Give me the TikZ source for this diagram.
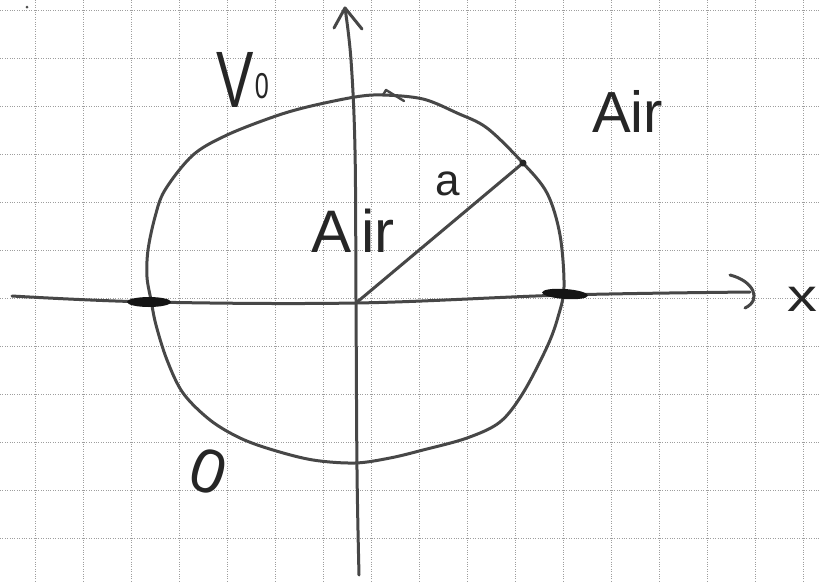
\documentclass[tikz,border=0pt]{standalone}
\usepackage{fontspec}
\setmainfont{Liberation Sans}
\begin{document}
\begin{tikzpicture}[x=1pt,y=-1pt,
  gridline/.style={draw=black!38,line width=0.6pt,dash pattern=on 0.8pt off 1.6pt},
  ink/.style={draw=black!72,line width=3pt,line cap=round,line join=round},
  blob/.style={fill=black!92,draw=none},
  lbl/.style={text=black!85,inner sep=0pt}]
\useasboundingbox[fill=white] (0,0) rectangle (819,582);
% grid
\foreach \k in {0,...,16} {\draw[gridline] (35+48*\k,0) -- (35+48*\k,582);}
\foreach \k in {0,...,11} {\draw[gridline] (0,10+48*\k) -- (819,10+48*\k);}
% key points
\coordinate (O) at (356,303);
\coordinate (P) at (523,163);
\coordinate (ytop) at (345,8);
\coordinate (ybot) at (359,575);
\coordinate (xl) at (12,296);
\coordinate (xr) at (750,292);
% speck
\fill[black!70] (27,7) circle (1.5);
% boundary
\draw[ink] plot[smooth cycle,tension=0.55] coordinates {
 (355,97) (383,95) (423,99) (457,113) (487,128) (522,162) (547,193) (560,235)
 (564,287) (558,317) (547,347) (523,393) (500,422) (467,438) (423,450) (390,458)
 (355,463) (313,460) (273,450) (240,438) (210,420) (183,393) (167,360) (156,325)
 (151,300) (147,277) (148,250) (155,217) (165,190) (193,155) (227,135) (273,117)
 (307,107)};
\draw[ink,line width=2.4pt] (383,95) -- (386,90) -- (404,101);
% y axis
\draw[ink] plot[smooth,tension=0.6] coordinates {(ybot) (357,470) (356,300) (355,150) (351,60) (ytop)};
\draw[ink] (334,28) -- (ytop) -- (362,29);
% x axis
\draw[ink] plot[smooth,tension=0.6] coordinates {(xl) (150,302) (O) (565,295) (xr)};
\draw[ink] (730,275) .. controls (754,281) and (762,300) .. (745,308);
% radius
\draw[ink] (O) -- (P);
\fill[black!85] (P) circle (3.5);
% gap blobs
\fill[blob] (149,302) ellipse [x radius=22,y radius=5];
\fill[blob,rotate around={-4:(565,294)}] (565,294) ellipse [x radius=23,y radius=5];
% labels
\node[lbl,anchor=base west,xscale=0.7] (v0) at (216,107)
  {\fontsize{80}{80}\selectfont V\kern2pt\raisebox{9pt}{\fontsize{36}{36}\selectfont 0}};
\node[lbl,anchor=base west] (airout) at (592,132) {\fontsize{58}{58}\selectfont Air};
\node[lbl,anchor=base west] (airin) at (311,252) {\fontsize{60}{60}\selectfont A\kern10pt ir};
\node[lbl,anchor=base west] (a) at (435,195) {\fontsize{44}{44}\selectfont a};
\node[lbl,rotate=-18] (zero) at (208,472) {\fontsize{62}{62}\selectfont 0};
\node[lbl,xscale=1.3] (xlab) at (802,299) {\fontsize{46}{46}\selectfont x};
\end{tikzpicture}
\end{document}
